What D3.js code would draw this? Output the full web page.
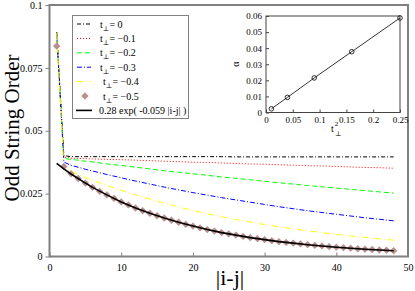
<!DOCTYPE html>
<html>
<head>
<meta charset="utf-8">
<script src="https://cdn.jsdelivr.net/npm/d3@7"></script>
<style>
  body { margin: 0; background: #fff; }
  svg { display: block; font-family: "Liberation Serif", "DejaVu Serif", serif; }
</style>
</head>
<body>
<svg id="canvas"></svg>
<script>
// --- data ---
// sites used for the line curves
const lineSites = [1,2,3,4,5,6,8,10,12,14,16,18,20,22,24,26,28,30,32,34,36,38,40,42,44,46,48]

const tZero  = [0.0892,0.0401,0.0397,0.0397,0.0397,0.0397,0.0397,0.0397,0.0397,0.0397,0.0397,0.0397,0.0397,0.0397,0.0397,0.0396,0.0396,0.0396,0.0396,0.0396,0.0396,0.0396,0.0396,0.0396,0.0396,0.0396,0.0396]
const tOne   = [0.0891,0.0395,0.0391,0.0390,0.0389,0.0388,0.0386,0.0385,0.0383,0.0381,0.0379,0.0377,0.0375,0.0374,0.0372,0.0370,0.0368,0.0367,0.0365,0.0363,0.0361,0.0360,0.0358,0.0356,0.0354,0.0353,0.0351]
const tTwo   = [0.0890,0.0390,0.0386,0.0383,0.0379,0.0376,0.0368,0.0362,0.0355,0.0348,0.0341,0.0335,0.0329,0.0323,0.0316,0.0311,0.0305,0.0299,0.0293,0.0288,0.0282,0.0277,0.0272,0.0267,0.0262,0.0257,0.0252]
const tThree = [0.0889,0.0376,0.0362,0.0355,0.0347,0.0340,0.0326,0.0313,0.0300,0.0288,0.0276,0.0265,0.0254,0.0244,0.0234,0.0225,0.0216,0.0207,0.0198,0.0190,0.0182,0.0175,0.0168,0.0161,0.0154,0.0148,0.0142]
const tFour  = [0.0888,0.0358,0.0338,0.0326,0.0314,0.0303,0.0282,0.0263,0.0245,0.0228,0.0212,0.0197,0.0183,0.0170,0.0158,0.0147,0.0137,0.0127,0.0118,0.0110,0.0102,0.0095,0.0088,0.0082,0.0076,0.0070,0.0065]
const fitLine = [0.0370,0.0348,0.0328,0.0310,0.0292,0.0275,0.0245,0.0217,0.0193,0.0172,0.0153,0.0136,0.0121,0.0107,0.0095,0.0085,0.0075,0.0067,0.0059,0.0053,0.0047,0.0042,0.0037,0.0033,0.0029,0.0026,0.0023]

// t_perp = -0.5 points, one per site 1..48
const pointSites = d3.range(1, 49)
const tFive = [0.0837,0.0358,0.0329,0.0310,0.0292,0.0275,0.0259,0.0245,0.0231,0.0217,
               0.0205,0.0193,0.0182,0.0172,0.0162,0.0153,0.0144,0.0136,0.0128,0.0121,
               0.0114,0.0107,0.0101,0.0095,0.0090,0.0085,0.0080,0.0075,0.0071,0.0067,
               0.0063,0.0059,0.0056,0.0053,0.0050,0.0047,0.0044,0.0042,0.0039,0.0037,
               0.0035,0.0033,0.0031,0.0029,0.0028,0.0026,0.0025,0.0023]

// inset: alpha vs t_perp^2
const insetT2 = [0.01, 0.04, 0.09, 0.16, 0.25]
const insetAlpha = [0.0023, 0.0094, 0.0215, 0.0378, 0.0588]

const xTicks = [0, 10, 20, 30, 40, 50]
const yTicks = [0, 0.025, 0.05, 0.075, 0.1]
const yTickLabels = ['0', '0.025', '0.05', '0.075', '0.1']
const insetXTicks = [0, 0.05, 0.1, 0.15, 0.2, 0.25]
const insetYTicks = [0, 0.01, 0.02, 0.03, 0.04, 0.05, 0.06]

const legendLabels = ['0', '\u22120.1', '\u22120.2', '\u22120.3', '\u22120.4', '\u22120.5']

// --- canvas ---
let w = 415
let h = 291
let canvas = d3.select('#canvas').attr('width', w).attr('height', h)

let frameColor = '#808080'

let xScale = d3.scaleLinear().domain([0, 50]).range([49.5, 408])
let yScale = d3.scaleLinear().domain([0, 0.1]).range([256.5, 5])

// curves
let series = [
  {vals: tZero,   color: '#000000', dash: '4,2,1,2'},
  {vals: tOne,    color: '#ff0000', dash: '1,2'},
  {vals: tTwo,    color: '#00ff00', dash: '5,3'},
  {vals: tThree,  color: '#0000ff', dash: '5,2,1,2'},
  {vals: tFour,   color: '#ffff00', dash: '6,3,1,3'}
]

let line = d3.line().x(d => xScale(d[0])).y(d => yScale(d[1]))

series.forEach(s => {
  canvas.append('path')
    .datum(lineSites.map((x, i) => [x, s.vals[i]]))
    .attr('d', line)
    .attr('fill', 'none')
    .attr('stroke', s.color)
    .attr('stroke-width', 1)
    .attr('stroke-dasharray', s.dash)
})

let diamond = d3.symbol().type(d3.symbolSquare).size(27)
let diamondColor = '#bc8f8f'

canvas.append('g').selectAll('path')
  .data(pointSites.map((x, i) => [x, tFive[i]]))
  .enter()
  .append('path')
  .attr('d', diamond)
  .attr('transform', d => 'translate(' + xScale(d[0]) + ',' + yScale(d[1]) + ') rotate(45)')
  .attr('fill', diamondColor)

canvas.append('path')
  .datum(lineSites.map((x, i) => [x, fitLine[i]]))
  .attr('d', line)
  .attr('fill', 'none')
  .attr('stroke', '#000')
  .attr('stroke-width', 1.6)

// axes
let xAxis = d3.axisBottom(xScale).tickValues(xTicks).tickSize(-4).tickPadding(7).tickFormat(d3.format('d'))
let yAxis = d3.axisLeft(yScale).tickValues(yTicks).tickSize(4).tickPadding(3).tickFormat((d, i) => yTickLabels[i])

let gx = canvas.append('g').attr('transform', 'translate(0,' + yScale(0) + ')').call(xAxis)
let gy = canvas.append('g').attr('transform', 'translate(' + xScale(0) + ',0)').call(yAxis)
;[gx, gy].forEach(g => {
  g.select('.domain').remove()
  g.selectAll('line').attr('stroke', frameColor)
  g.selectAll('text').attr('fill', '#000').style('font-size', '10px').style('font-family', 'Liberation Serif')
})

canvas.append('rect')
  .attr('x', xScale(0)).attr('y', yScale(0.1))
  .attr('width', xScale(50) - xScale(0)).attr('height', yScale(0) - yScale(0.1))
  .attr('fill', 'none').attr('stroke', frameColor).attr('stroke-width', 2)

canvas.append('text')
  .attr('transform', 'translate(19,128) rotate(-90)')
  .attr('text-anchor', 'middle')
  .style('font-size', '21px')
  .text('Odd String Order')

canvas.append('text')
  .attr('x', 230).attr('y', 285)
  .attr('text-anchor', 'middle')
  .style('font-size', '22px')
  .text('|i-j|')

// legend
let legend = canvas.append('g')
legend.append('rect')
  .attr('x', 72.5).attr('y', 15.5).attr('width', 116).attr('height', 103)
  .attr('fill', '#fff').attr('stroke', frameColor).attr('stroke-width', 1)

let rowY = i => 24 + i * 14.4

series.forEach((s, i) => {
  legend.append('line')
    .attr('x1', 77).attr('x2', 91).attr('y1', rowY(i)).attr('y2', rowY(i))
    .attr('stroke', s.color).attr('stroke-width', 1).attr('stroke-dasharray', s.dash)
})
legend.append('path')
  .attr('d', diamond)
  .attr('transform', 'translate(85,' + rowY(5) + ') rotate(45)')
  .attr('fill', diamondColor)
legend.append('line')
  .attr('x1', 76).attr('x2', 92).attr('y1', rowY(6)).attr('y2', rowY(6))
  .attr('stroke', '#000').attr('stroke-width', 1.6)

legendLabels.forEach((lab, i) => {
  let tx = legend.append('text')
    .attr('x', i >= 4 ? 103 : 100).attr('y', rowY(i) + 3.5)
    .style('font-size', '10px')
  tx.append('tspan').text('t')
  tx.append('tspan').attr('dy', 3).style('font-size', '7px').text('\u22a5')
  tx.append('tspan').attr('dy', -3).text('= ' + lab)
})
legend.append('text')
  .attr('x', 99).attr('y', rowY(6) + 3.5)
  .style('font-size', '10px')
  .text('0.28 exp( -0.059 |i-j| )')

// inset
let ix = d3.scaleLinear().domain([0, 0.25]).range([266, 400])
let iy = d3.scaleLinear().domain([0, 0.06]).range([112.5, 16])

let inset = canvas.append('g')
inset.append('rect')
  .attr('x', 266).attr('y', 16).attr('width', 134).attr('height', 96.5)
  .attr('fill', '#fff').attr('stroke', '#444').attr('stroke-width', 1)

let ixAxis = d3.axisBottom(ix).tickValues(insetXTicks).tickSize(-3).tickPadding(4).tickFormat(d => String(d))
let iyAxis = d3.axisLeft(iy).tickValues(insetYTicks).tickSize(-3).tickPadding(4).tickFormat(d => String(d))
let gix = inset.append('g').attr('transform', 'translate(0,112.5)').call(ixAxis)
let giy = inset.append('g').attr('transform', 'translate(266,0)').call(iyAxis)
;[gix, giy].forEach(g => {
  g.select('.domain').remove()
  g.selectAll('line').attr('stroke', '#444')
  g.selectAll('text').attr('fill', '#000').style('font-size', '9px').style('font-family', 'Liberation Serif')
})

inset.append('path')
  .datum(insetT2.map((x, i) => [x, insetAlpha[i]]))
  .attr('d', d3.line().x(d => ix(d[0])).y(d => iy(d[1])))
  .attr('fill', 'none').attr('stroke', '#000').attr('stroke-width', 0.8)

inset.selectAll('circle')
  .data(insetT2.map((x, i) => [x, insetAlpha[i]]))
  .enter()
  .append('circle')
  .attr('cx', d => ix(d[0])).attr('cy', d => iy(d[1]))
  .attr('r', 2.3)
  .attr('fill', 'none').attr('stroke', '#000').attr('stroke-width', 0.8)

inset.append('text')
  .attr('transform', 'translate(239,64) rotate(-90)')
  .attr('text-anchor', 'middle')
  .style('font-size', '10px')
  .text('\u03b1')

let ilab = inset.append('text').attr('x', 331).attr('y', 132).style('font-size', '10px')
ilab.append('tspan').text('t')
ilab.append('tspan').attr('dx', 1).attr('dy', -6).style('font-size', '7px').text('2')
ilab.append('tspan').attr('x', 335).attr('dy', 10).style('font-size', '7px').text('\u22a5')
</script>
</body>
</html>
